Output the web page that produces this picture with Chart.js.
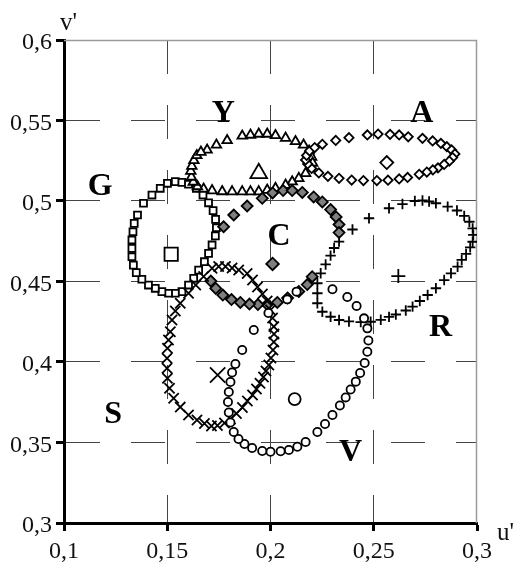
<!DOCTYPE html>
<html>
<head>
<meta charset="utf-8">
<script src="https://cdn.jsdelivr.net/npm/chart.js@4/dist/chart.umd.min.js"></script>
<style>
  html, body { margin: 0; padding: 0; background: #fff; }
  #wrap { width: 515px; height: 565px; }
</style>
</head>
<body>
<div id="wrap"><canvas id="c" width="515" height="565"></canvas></div>
<script>
// Axis ticks (u', v') and their printed labels
const uTicks = [0.1, 0.15, 0.2, 0.25, 0.3];
const uTickLabels = ['0,1', '0,15', '0,2', '0,25', '0,3'];
const vTicks = [0.3, 0.35, 0.4, 0.45, 0.5, 0.55, 0.6];
const vTickLabels = ['0,3', '0,35', '0,4', '0,45', '0,5', '0,55', '0,6'];

// Chromaticity loci [u', v'] of each colour group, plus the group mean
const G_ring = [[0.1385,0.4986],[0.1426,0.5037],[0.1466,0.5079],[0.1501,0.5110],[0.1539,0.5120],[0.1571,0.5116],[0.1603,0.5104],[0.1641,0.5079],[0.1673,0.5037],[0.1700,0.4989],[0.1722,0.4940],[0.1734,0.4886],[0.1738,0.4834],[0.1733,0.4783],[0.1717,0.4727],[0.1700,0.4675],[0.1680,0.4623],[0.1652,0.4571],[0.1628,0.4520],[0.1603,0.4478],[0.1571,0.4437],[0.1539,0.4427],[0.1506,0.4427],[0.1474,0.4437],[0.1442,0.4458],[0.1409,0.4478],[0.1377,0.4514],[0.1350,0.4555],[0.1336,0.4602],[0.1329,0.4654],[0.1329,0.4706],[0.1329,0.4758],[0.1334,0.4809],[0.1340,0.4861],[0.1356,0.4913]];
const G_mean = [[0.1519,0.4669]];

const Y_ring = [[0.1693,0.5317],[0.1738,0.5348],[0.1790,0.5376],[0.1863,0.5404],[0.1903,0.5410],[0.1943,0.5416],[0.1984,0.5416],[0.2024,0.5407],[0.2073,0.5391],[0.2121,0.5370],[0.2160,0.5348],[0.2187,0.5311],[0.2199,0.5273],[0.2204,0.5236],[0.2189,0.5205],[0.2170,0.5172],[0.2137,0.5141],[0.2105,0.5120],[0.2073,0.5099],[0.2024,0.5079],[0.1984,0.5068],[0.1943,0.5058],[0.1903,0.5058],[0.1863,0.5058],[0.1814,0.5058],[0.1766,0.5059],[0.1717,0.5065],[0.1676,0.5075],[0.1646,0.5090],[0.1626,0.5118],[0.1617,0.5149],[0.1614,0.5186],[0.1619,0.5217],[0.1629,0.5252],[0.1643,0.5283],[0.1663,0.5304]];
const Y_mean = [[0.1943,0.5172]];

const A_ring = [[0.2199,0.5202],[0.2180,0.5230],[0.2170,0.5255],[0.2175,0.5283],[0.2189,0.5311],[0.2214,0.5332],[0.2251,0.5352],[0.2316,0.5376],[0.2380,0.5393],[0.2469,0.5410],[0.2521,0.5416],[0.2579,0.5414],[0.2623,0.5410],[0.2667,0.5399],[0.2736,0.5389],[0.2785,0.5373],[0.2825,0.5358],[0.2854,0.5337],[0.2877,0.5317],[0.2893,0.5292],[0.2882,0.5270],[0.2866,0.5248],[0.2841,0.5227],[0.2811,0.5205],[0.2786,0.5193],[0.2757,0.5180],[0.2720,0.5166],[0.2664,0.5146],[0.2623,0.5137],[0.2569,0.5129],[0.2515,0.5127],[0.2450,0.5127],[0.2393,0.5130],[0.2332,0.5141],[0.2278,0.5153],[0.2234,0.5174]];
const A_mean = [[0.2563,0.5239]];

const C_ring = [[0.1773,0.4840],[0.1822,0.4913],[0.1887,0.4969],[0.1960,0.5017],[0.2010,0.5050],[0.2061,0.5065],[0.2105,0.5065],[0.2154,0.5053],[0.2209,0.5025],[0.2251,0.4994],[0.2291,0.4947],[0.2318,0.4901],[0.2332,0.4854],[0.2332,0.4804],[0.2202,0.4530],[0.2178,0.4481],[0.2137,0.4438],[0.2083,0.4398],[0.2033,0.4370],[0.1984,0.4357],[0.1939,0.4357],[0.1898,0.4360],[0.1854,0.4370],[0.1811,0.4388],[0.1769,0.4416],[0.1735,0.4457],[0.1711,0.4503]];
const C_mean = [[0.2010,0.4609]];

const R_ring = [[0.2397,0.4823],[0.2477,0.4893],[0.2574,0.4955],[0.2639,0.4981],[0.2699,0.5000],[0.2736,0.5003],[0.2768,0.4997],[0.2801,0.4986],[0.2858,0.4965],[0.2903,0.4941],[0.2938,0.4907],[0.2963,0.4871],[0.2979,0.4830],[0.2982,0.4789],[0.2979,0.4747],[0.2967,0.4712],[0.2947,0.4671],[0.2926,0.4634],[0.2906,0.4592],[0.2874,0.4551],[0.2841,0.4509],[0.2801,0.4458],[0.2761,0.4416],[0.2723,0.4379],[0.2688,0.4344],[0.2655,0.4320],[0.2607,0.4295],[0.2574,0.4280],[0.2534,0.4262],[0.2485,0.4250],[0.2437,0.4248],[0.2380,0.4252],[0.2332,0.4261],[0.2291,0.4281],[0.2251,0.4312],[0.2227,0.4365],[0.2227,0.4427],[0.2227,0.4489],[0.2243,0.4551],[0.2267,0.4606],[0.2291,0.4661],[0.2308,0.4708],[0.2332,0.4748]];
const R_mean = [[0.2619,0.4534]];

const S_ring = [[0.1676,0.4531],[0.1717,0.4582],[0.1749,0.4593],[0.1782,0.4593],[0.1814,0.4584],[0.1846,0.4571],[0.1887,0.4550],[0.1913,0.4509],[0.1937,0.4466],[0.1961,0.4422],[0.1984,0.4379],[0.2000,0.4323],[0.2010,0.4273],[0.2016,0.4220],[0.2017,0.4174],[0.2016,0.4124],[0.2012,0.4075],[0.2002,0.4025],[0.1992,0.3981],[0.1978,0.3944],[0.1966,0.3907],[0.1949,0.3868],[0.1932,0.3832],[0.1913,0.3795],[0.1888,0.3758],[0.1864,0.3717],[0.1835,0.3680],[0.1806,0.3646],[0.1777,0.3621],[0.1743,0.3606],[0.1714,0.3602],[0.1680,0.3618],[0.1644,0.3640],[0.1603,0.3671],[0.1563,0.3720],[0.1531,0.3775],[0.1511,0.3837],[0.1501,0.3899],[0.1499,0.3961],[0.1499,0.4023],[0.1501,0.4085],[0.1506,0.4137],[0.1515,0.4188],[0.1523,0.4261],[0.1539,0.4317],[0.1563,0.4365],[0.1603,0.4427],[0.1638,0.4478]];
const S_mean = [[0.1744,0.3919]];

const V_ring = [[0.1919,0.4199],[0.1990,0.4304],[0.2081,0.4389],[0.2126,0.4437],[0.2300,0.4452],[0.2372,0.4404],[0.2417,0.4348],[0.2453,0.4271],[0.2469,0.4209],[0.2474,0.4134],[0.2469,0.4064],[0.2456,0.3994],[0.2434,0.3932],[0.2413,0.3878],[0.2388,0.3829],[0.2364,0.3780],[0.2336,0.3730],[0.2300,0.3671],[0.2264,0.3615],[0.2227,0.3565],[0.2170,0.3503],[0.2130,0.3474],[0.2089,0.3453],[0.2049,0.3446],[0.2000,0.3443],[0.1960,0.3447],[0.1911,0.3466],[0.1874,0.3491],[0.1845,0.3522],[0.1822,0.3565],[0.1806,0.3624],[0.1798,0.3686],[0.1794,0.3752],[0.1798,0.3814],[0.1806,0.3876],[0.1814,0.3935],[0.1830,0.3988],[0.1863,0.4075]];
const V_mean = [[0.2117,0.3770]];

// Group letters and the point [u', v'] each letter is centred on
const groupNames = ['G', 'Y', 'A', 'C', 'R', 'S', 'V'];
const groupNameAt = [[0.1175,0.5106],[0.1772,0.5559],[0.2733,0.5559],[0.2041,0.4795],[0.2823,0.4230],[0.1238,0.3689],[0.2388,0.3453]];

const SERIF = '"Liberation Serif", "Times New Roman", Times, serif';
const toXY = pts => pts.map(p => ({ x: p[0], y: p[1] }));

// marker look for each group (ring marker, mean marker)
const groups = [
  { ring: G_ring, mean: G_mean, style: 'rect',     r: 4.9, rm: 9.4, fill: '#fff' },
  { ring: Y_ring, mean: Y_mean, style: 'triangle', r: 5.5, rm: 9.6, fill: '#fff' },
  { ring: A_ring, mean: A_mean, style: 'rectRot',  r: 4.6, rm: 6.5, fill: '#fff' },
  { ring: C_ring, mean: C_mean, style: 'rectRot',  r: 5.5, rm: 6.3, fill: '#7f7f7f' },
  { ring: R_ring, mean: R_mean, style: 'cross',    r: 5.2, rm: 7.0, fill: '#000' },
  { ring: S_ring, mean: S_mean, style: 'crossRot', r: 7.2, rm: 10.8, fill: '#000' },
  { ring: V_ring, mean: V_mean, style: 'circle',   r: 4.1, rm: 6.0, fill: '#fff' }
];

const datasets = [];
groups.forEach((g, i) => {
  const base = {
    pointStyle: g.style,
    pointBackgroundColor: g.fill,
    pointBorderColor: '#000',
    pointBorderWidth: 1.8,
    showLine: false,
    order: 20 - i   // later groups are painted over earlier ones
  };
  datasets.push(Object.assign({}, base, { label: groupNames[i], data: toXY(g.ring), pointRadius: g.r }));
  datasets.push(Object.assign({}, base, { label: groupNames[i] + ' mean', data: toXY(g.mean), pointRadius: g.rm }));
});

const framePlugin = {
  id: 'frame',
  beforeDatasetsDraw(chart) {
    const { ctx, chartArea: a } = chart;
    ctx.save();
    ctx.strokeStyle = '#9a9a9a';
    ctx.lineWidth = 1.5;
    ctx.beginPath();
    ctx.moveTo(a.left, a.top + 0.5);
    ctx.lineTo(a.right - 0.5, a.top + 0.5);
    ctx.lineTo(a.right - 0.5, a.bottom);
    ctx.stroke();
    ctx.restore();
  },
  afterDatasetsDraw(chart) {
    const { ctx, scales } = chart;
    ctx.save();
    ctx.fillStyle = '#000';
    ctx.font = 'bold 32px ' + SERIF;
    ctx.textAlign = 'center';
    ctx.textBaseline = 'alphabetic';
    groupNames.forEach((name, i) => {
      const x = scales.x.getPixelForValue(groupNameAt[i][0]);
      const y = scales.y.getPixelForValue(groupNameAt[i][1]);
      ctx.fillText(name, x, y + 11);
    });
    // axis titles at the axis ends
    const a = chart.chartArea;
    ctx.font = '25px ' + SERIF;
    ctx.fillStyle = '#111';
    ctx.textAlign = 'left';
    ctx.fillText("v'", a.left - 4, a.top - 10);
    ctx.fillText("u'", a.right + 20, a.bottom + 17);
    ctx.restore();
  }
};

const gridColor = (edges) => (ctx) =>
  (ctx.tick && edges.includes(ctx.tick.value)) ? 'rgba(0,0,0,0)' : '#444';

new Chart(document.getElementById('c'), {
  type: 'scatter',
  data: { datasets },
  options: {
    responsive: false,
    animation: false,
    devicePixelRatio: 1,
    layout: { padding: { left: 0, top: 40, right: 38, bottom: 0 } },
    plugins: { legend: { display: false }, tooltip: { enabled: false } },
    scales: {
      x: {
        type: 'linear',
        min: 0.1, max: 0.3,
        afterBuildTicks: s => { s.ticks = uTicks.map(v => ({ value: v })); },
        afterFit: s => { s.height = 42; },
        ticks: {
          autoSkip: false, maxRotation: 0,
          padding: 6,
          color: '#111',
          font: { family: SERIF, size: 24 },
          callback: (v, i) => uTickLabels[i]
        },
        grid: {
          color: gridColor([0.1, 0.3]),
          lineWidth: 1,
          tickColor: '#000', tickWidth: 3, tickLength: 8, tickBorderDash: []
        },
        border: { color: '#000', width: 3, dash: [34, 31] }
      },
      y: {
        type: 'linear',
        min: 0.3, max: 0.6,
        afterBuildTicks: s => { s.ticks = vTicks.map(v => ({ value: v })); },
        afterFit: s => { s.width = 64; },
        ticks: {
          autoSkip: false,
          padding: 4,
          labelOffset: 3,
          color: '#111',
          font: { family: SERIF, size: 24 },
          callback: (v, i) => vTickLabels[i]
        },
        grid: {
          color: gridColor([0.3, 0.6]),
          lineWidth: 1,
          tickColor: '#000', tickWidth: 3, tickLength: 8, tickBorderDash: []
        },
        border: { color: '#000', width: 3, dash: [34, 31] }
      }
    }
  },
  plugins: [framePlugin]
});
</script>
</body>
</html>
